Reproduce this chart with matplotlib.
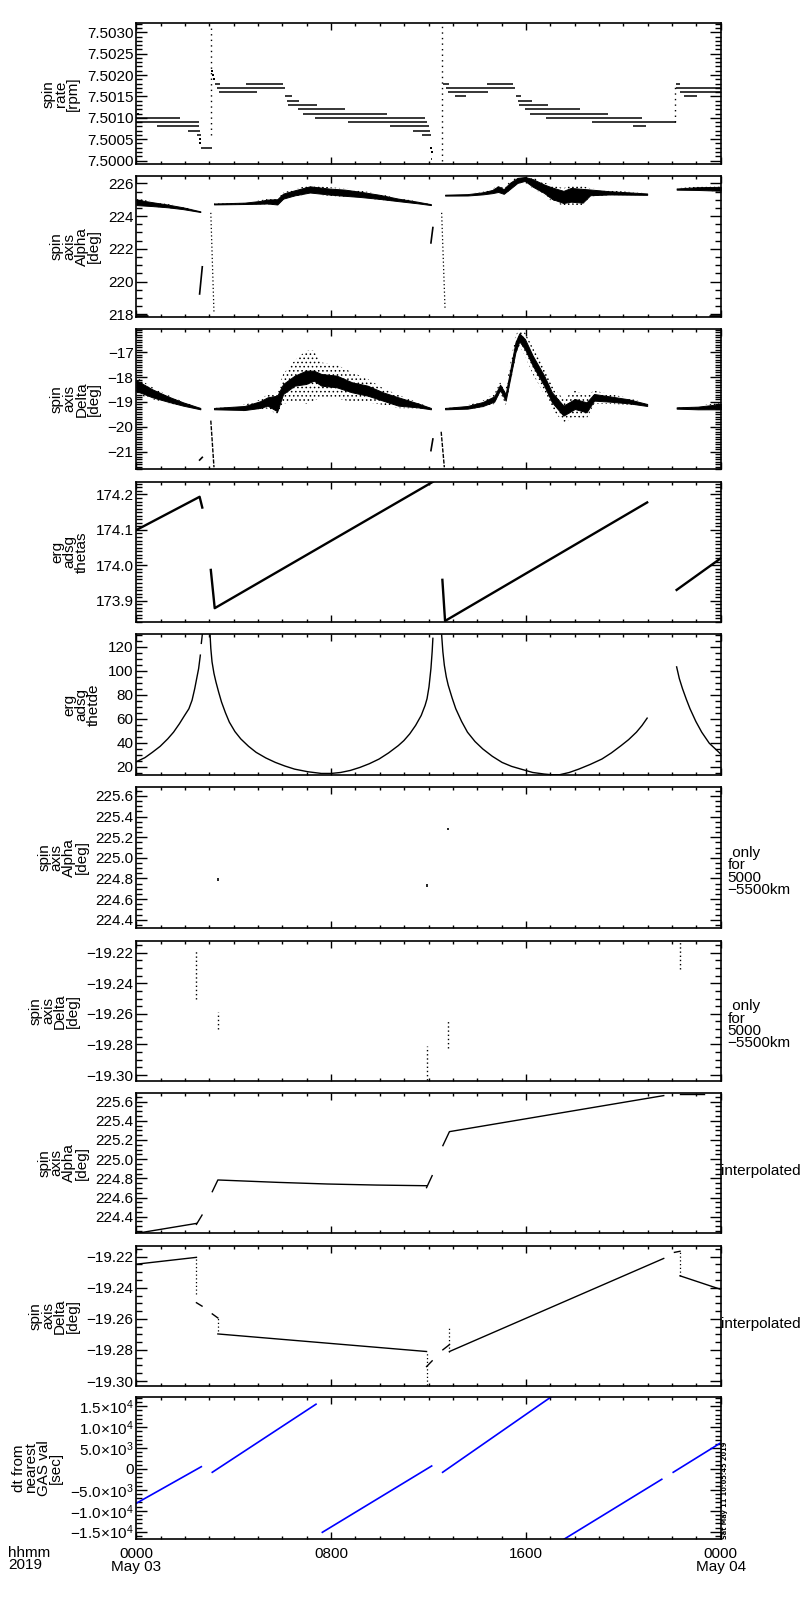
import numpy as np
import matplotlib
matplotlib.use('Agg')
import matplotlib.pyplot as plt
from matplotlib.ticker import MultipleLocator, FuncFormatter, FixedLocator, FixedFormatter

plt.rcParams['font.family'] = ['Liberation Sans', 'DejaVu Sans']
plt.rcParams['mathtext.fontset'] = 'custom'
plt.rcParams['mathtext.rm'] = 'Liberation Sans'
plt.rcParams['mathtext.it'] = 'Liberation Sans:italic'
plt.rcParams['hatch.linewidth'] = 0.6

# ---------------- data (time in hours of 2019-05-03) ----------------
# panel 1: spin rate [rpm], quantised levels
rate_level = [7.5010, 7.5009, 7.5008, 7.5007, 7.5006, 7.5003,
              7.5018, 7.5017, 7.5016, 7.5018, 7.5015, 7.5014, 7.5013, 7.5012,
              7.5011, 7.5010, 7.5009, 7.5008, 7.5007, 7.5006, 7.50003,
              7.5018, 7.5017, 7.5016, 7.5015, 7.5018, 7.5015, 7.5014, 7.5013,
              7.5012, 7.5011, 7.5010, 7.5009, 7.5008,
              7.5018, 7.5017, 7.5016, 7.5015]
rate_start = [0.0, 0.0, 0.84, 2.14, 2.48, 2.66,
              3.23, 3.30, 3.41, 4.50, 6.11, 6.18, 6.24, 6.65,
              6.86, 7.34, 8.71, 10.42, 11.38, 11.72, 12.09,
              12.58, 12.72, 12.81, 13.09, 14.39, 15.59, 15.69, 15.73,
              15.96, 16.17, 16.83, 18.70, 20.41,
              22.16, 22.16, 22.33, 22.49]
rate_end = [1.79, 2.58, 2.58, 2.60, 2.66, 3.11,
            3.44, 6.11, 4.94, 6.01, 6.38, 6.68, 7.41, 8.57,
            10.30, 11.86, 11.93, 12.00, 12.06, 12.09, 12.16,
            12.84, 15.55, 14.46, 13.54, 15.46, 15.78, 16.24, 16.92,
            18.22, 19.39, 20.75, 22.16, 20.93,
            22.33, 24.0, 24.0, 23.01]
rate_spike_time = [3.05, 12.55, 22.14]
rate_spike_low = [7.5006, 7.5000, 7.5009]
rate_spike_high = [7.50315, 7.50315, 7.5018]
rate_dot_time = [3.12, 3.15, 3.18, 2.60, 2.63, 12.10, 12.13, 0.05]
rate_dot_value = [7.5021, 7.5020, 7.5019, 7.5005, 7.5004, 7.5003, 7.5002, 7.5011]

# panel 2: spin axis Alpha [deg] (band envelopes)
alpha_a_time = [0, 0.66, 1.29, 1.92, 2.63]
alpha_a_upper = [225.08, 224.90, 224.74, 224.56, 224.30]
alpha_a_lower = [224.60, 224.56, 224.50, 224.40, 224.24]
alpha_c_time = [3.19, 4.45, 5.08, 5.39, 5.79, 6.03, 6.50, 7.13, 7.92, 8.55, 9.18, 9.97, 10.76, 11.55, 12.10]
alpha_c_upper = [224.78, 224.84, 224.96, 225.06, 225.10, 225.44, 225.64, 225.90, 225.76, 225.70, 225.56, 225.36, 225.10, 224.90, 224.74]
alpha_c_lower = [224.70, 224.72, 224.72, 224.72, 224.64, 225.00, 225.20, 225.36, 225.24, 225.16, 225.10, 225.00, 224.88, 224.76, 224.66]
alpha_e_time = [12.68, 13.60, 14.23, 14.62, 14.86, 15.09, 15.33, 15.65, 15.96, 16.28, 16.75, 17.07, 17.54, 17.85, 18.33, 18.64, 19.43, 20.22, 20.98]
alpha_e_upper = [225.32, 225.36, 225.48, 225.64, 225.90, 225.70, 226.10, 226.40, 226.44, 226.36, 226.04, 225.90, 225.70, 225.90, 225.84, 225.70, 225.56, 225.48, 225.40]
alpha_e_lower = [225.24, 225.24, 225.30, 225.36, 225.40, 225.30, 225.56, 225.96, 226.10, 225.70, 225.30, 224.90, 224.64, 224.70, 224.64, 225.20, 225.28, 225.28, 225.28]
alpha_f_time = [22.19, 23.06, 24.0]
alpha_f_upper = [225.70, 225.80, 225.84]
alpha_f_lower = [225.60, 225.56, 225.50]
alpha_stub_t0 = [2.60, 12.10]
alpha_stub_v0 = [219.24, 222.36]
alpha_stub_t1 = [2.71, 12.18]
alpha_stub_v1 = [220.90, 223.30]
alpha_spike_t0 = [3.06, 12.54]
alpha_spike_v0 = [224.2, 224.2]
alpha_spike_t1 = [3.19, 12.68]
alpha_spike_v1 = [218.1, 218.3]
alpha_edge_t0 = [0.0, 23.5]
alpha_edge_t1 = [0.5, 24.0]
alpha_edge_v = [217.9, 217.9]

# panel 3: spin axis Delta [deg] (centre, dense core half-width, scatter half-width)
delta_a_time = [0, 0.66, 1.29, 1.92, 2.63]
delta_a_center = [-18.342, -18.651, -18.879, -19.081, -19.268]
delta_a_core = [0.215, 0.161, 0.107, 0.067, 0.027]
delta_a_outer = [0.336, 0.242, 0.161, 0.094, 0.027]
delta_c_time = [3.19, 4.45, 5.08, 5.39, 5.79, 6.03, 6.50, 6.97, 7.29, 7.60, 8.23, 8.86, 9.50, 10.13, 10.76, 11.55, 12.10]
delta_c_center = [-19.268, -19.242, -19.107, -18.980, -19.060, -18.477, -18.141, -18.007, -17.940, -18.107, -18.174, -18.409, -18.544, -18.779, -18.980, -19.134, -19.268]
delta_c_core = [0.027, 0.081, 0.134, 0.168, 0.315, 0.201, 0.201, 0.268, 0.201, 0.235, 0.235, 0.201, 0.201, 0.168, 0.168, 0.081, 0.027]
delta_c_outer = [0.027, 0.134, 0.201, 0.282, 0.443, 0.604, 0.805, 1.074, 1.007, 0.698, 0.671, 0.604, 0.470, 0.336, 0.268, 0.121, 0.027]
delta_e_time = [12.68, 13.60, 14.23, 14.70, 14.94, 15.17, 15.33, 15.57, 15.73, 15.96, 16.28, 16.75, 17.07, 17.54, 18.01, 18.49, 18.80, 19.43, 20.22, 20.98]
delta_e_center = [-19.268, -19.215, -19.081, -18.879, -18.409, -18.812, -18.007, -16.799, -16.396, -16.664, -17.336, -18.141, -18.812, -19.349, -19.081, -19.215, -18.812, -18.879, -18.973, -19.121]
delta_e_core = [0.027, 0.054, 0.081, 0.107, 0.107, 0.134, 0.161, 0.201, 0.161, 0.201, 0.201, 0.201, 0.201, 0.201, 0.201, 0.201, 0.134, 0.107, 0.081, 0.040]
delta_e_outer = [0.027, 0.081, 0.134, 0.201, 0.201, 0.336, 0.403, 0.470, 0.336, 0.470, 0.537, 0.537, 0.470, 0.470, 0.537, 0.470, 0.268, 0.201, 0.134, 0.054]
delta_f_time = [22.19, 23.06, 24.0]
delta_f_center = [-19.242, -19.242, -19.188]
delta_f_core = [0.027, 0.054, 0.107]
delta_f_outer = [0.027, 0.081, 0.161]
delta_stub_t0 = [2.60, 12.10]
delta_stub_v0 = [-21.34, -20.96]
delta_stub_t1 = [2.71, 12.18]
delta_stub_v1 = [-21.23, -20.49]
delta_spike_t0 = [3.06, 12.52]
delta_spike_v0 = [-19.75, -20.20]
delta_spike_t1 = [3.19, 12.65]
delta_spike_v1 = [-21.63, -21.63]

# panel 4: erg adsg thetas
thetas_a_time = [0.0, 2.60, 2.71]
thetas_a_value = [174.0995, 174.1934, 174.163]
thetas_b_time = [3.06, 3.22, 12.18]
thetas_b_value = [173.987, 173.879, 174.2357]
thetas_c_time = [12.57, 12.68, 20.98]
thetas_c_value = [173.959, 173.843, 174.1775]
thetas_d_time = [22.19, 24.0]
thetas_d_value = [173.9305, 174.0197]

# panel 5: erg adsg thetde
thetde_a_time = [0, 0.35, 0.66, 0.98, 1.29, 1.53, 1.77, 1.97, 2.16, 2.29, 2.40, 2.48, 2.56, 2.63]
thetde_a_value = [24.2, 27.5, 32.0, 37.0, 43.2, 48.8, 55.8, 62.3, 68.3, 75.4, 85.1, 93.5, 101.8, 113.0]
thetde_a2_time = [2.67, 2.71]
thetde_a2_value = [122.8, 130.0]
thetde_b_time = [3.03, 3.06, 3.11, 3.19, 3.27, 3.38, 3.50, 3.66, 3.82, 4.05, 4.29, 4.61, 4.92, 5.32,
                 5.71, 6.10, 6.50, 7.05, 7.60, 8.00, 8.39, 8.79, 9.18, 9.57, 9.97, 10.36, 10.76,
                 10.99, 11.23, 11.47, 11.70, 11.86, 11.94, 12.02, 12.10, 12.15, 12.18]
thetde_b_value = [129.8, 118.6, 107.4, 97.7, 90.7, 82.3, 73.9, 65.0, 57.2, 49.3, 43.2, 37.0, 32.0, 27.3,
                  23.6, 20.6, 18.0, 15.8, 14.4, 14.4, 15.2, 16.9, 19.4, 22.5, 26.4, 31.5, 37.6,
                  41.8, 47.4, 54.4, 62.7, 71.1, 76.7, 86.5, 101.8, 115.8, 127.0]
thetde_c_time = [12.54, 12.59, 12.65, 12.73, 12.81, 12.97, 13.12, 13.36, 13.60, 13.91, 14.23, 14.62,
                 15.02, 15.41, 15.80, 16.28, 16.75, 17.07, 17.38, 17.78, 18.17, 18.64, 19.12, 19.51,
                 19.91, 20.22, 20.54, 20.77, 20.98]
thetde_c_value = [129.8, 115.8, 104.6, 94.9, 87.9, 77.3, 68.3, 57.7, 48.8, 41.0, 34.8, 28.7,
                  23.6, 20.3, 18.0, 15.2, 13.9, 13.3, 13.3, 15.2, 18.0, 21.9, 26.4, 31.5,
                  37.6, 42.6, 48.8, 54.4, 60.5]
thetde_d_time = [22.19, 22.30, 22.43, 22.59, 22.74, 22.98, 23.22, 23.53, 24.0]
thetde_d_value = [103.2, 93.5, 85.1, 76.1, 68.3, 57.7, 48.8, 39.6, 30.6]

# panel 6: Alpha only for 5000-5500 km
alpha_sel_time = [3.35, 11.94, 12.82]
alpha_sel_low = [224.78, 224.72, 225.27]
alpha_sel_high = [224.80, 224.745, 225.29]

# panel 7: Delta only for 5000-5500 km
delta_sel_time = [2.47, 3.35, 11.94, 12.82, 22.33]
delta_sel_low = [-19.250, -19.270, -19.303, -19.2825, -19.231]
delta_sel_high = [-19.219, -19.259, -19.281, -19.265, -19.213]

# panel 8: Alpha interpolated
alpha_int_segments = [
    ([0.0, 2.47], [224.226, 224.330]),
    ([2.47, 2.70], [224.320, 224.417]),
    ([3.12, 3.35, 5.81, 7.84, 9.86, 11.92], [224.661, 224.783, 224.758, 224.741, 224.730, 224.723]),
    ([11.92, 12.15], [224.703, 224.828]),
    ([12.59, 12.86, 21.66], [225.141, 225.287, 225.663]),
    ([22.33, 23.33], [225.680, 225.680]),
]

# panel 9: Delta interpolated
delta_int_segments = [
    ([0.0, 2.47], [-19.2248, -19.2204]),
    ([2.47, 2.70], [-19.2496, -19.2518]),
    ([3.12, 3.35], [-19.2568, -19.2594]),
    ([3.35, 11.92], [-19.2697, -19.2810]),
    ([11.92, 12.15], [-19.2907, -19.2870]),
    ([12.59, 12.86], [-19.2799, -19.2766]),
    ([12.86, 21.66], [-19.2810, -19.2211]),
    ([22.10, 22.33], [-19.2172, -19.2165]),
    ([22.33, 24.0], [-19.2323, -19.2410]),
]
delta_int_jump_time = [2.47, 3.35, 11.92, 12.86, 22.33]
delta_int_jump_low = [-19.2442, -19.2680, -19.3026, -19.2810, -19.2323]
delta_int_jump_high = [-19.2204, -19.2594, -19.2810, -19.2648, -19.2165]

# panel 10: dt from nearest GAS val [sec]
dt_start_time = [0.0, 3.12, 7.64, 12.58, 17.58, 22.05]
dt_start_value = [-8206, -790, -15150, -790, -16750, -790]
dt_end_time = [2.67, 7.38, 12.13, 17.03, 21.58, 23.97]
dt_end_value = [550, 15500, 720, 17225, -2464, 6150]

# axis texts
ylabels = ["spin\nrate\n[rpm]", "spin\naxis\nAlpha\n[deg]", "spin\naxis\nDelta\n[deg]",
           "erg\nadsg\nthetas", "erg\nadsg\nthetde", "spin\naxis\nAlpha\n[deg]",
           "spin\naxis\nDelta\n[deg]", "spin\naxis\nAlpha\n[deg]", "spin\naxis\nDelta\n[deg]",
           "dt from\nnearest\nGAS val\n[sec]"]
xtick_hours = [0, 8, 16, 24]
xtick_labels = ["0000\nMay 03", "0800", "1600", "0000\nMay 04"]
dt_ticks = [-15000, -10000, -5000, 0, 5000, 10000, 15000]
dt_tick_labels = [r'$-1.5{\times}10^{4}$', r'$-1.0{\times}10^{4}$', r'$-5.0{\times}10^{3}$', '0',
                  r'$5.0{\times}10^{3}$', r'$1.0{\times}10^{4}$', r'$1.5{\times}10^{4}$']

# ---------------- figure ----------------
FS = 11
W, H = 800, 1600
fig = plt.figure(figsize=(8, 16), dpi=100)
left_px, right_px = 136.3, 720.7
tops = [23.3, 176.0, 329.0, 481.7, 634.0, 787.0, 941.0, 1093.0, 1246.0, 1397.0]
bots = [164.0, 316.7, 469.0, 622.0, 775.0, 928.0, 1080.7, 1233.0, 1385.7, 1539.0]
axes = []
for t, b in zip(tops, bots):
    axes.append(fig.add_axes([left_px / W, 1 - b / H, (right_px - left_px) / W, (b - t) / H]))


def fmt(pattern):
    return FuncFormatter(lambda v, p: (pattern % v).replace('-', '\u2212'))


def style(ax, ylim, major, minor, formatter):
    ax.set_xlim(0, 24)
    ax.set_ylim(*ylim)
    ax.xaxis.set_major_locator(FixedLocator(xtick_hours))
    ax.xaxis.set_minor_locator(MultipleLocator(1))
    ax.yaxis.set_major_locator(MultipleLocator(major))
    ax.yaxis.set_minor_locator(MultipleLocator(minor))
    if formatter is not None:
        ax.yaxis.set_major_formatter(formatter)
    ax.tick_params(which='both', direction='in', top=True, right=True, width=1.0,
                   labelsize=FS, colors='black')
    ax.tick_params(axis='y', which='major', length=8, pad=2)
    ax.tick_params(axis='y', which='minor', length=4.5)
    ax.tick_params(axis='x', which='major', length=5, pad=6)
    ax.tick_params(axis='x', which='minor', length=2.5)
    ax.tick_params(axis='x', labelbottom=False)
    for s in ax.spines.values():
        s.set_linewidth(1.2)


def band(ax, t, center, hw, hatch=False):
    c = np.asarray(center)
    w = np.asarray(hw)
    if hatch:
        ax.fill_between(t, c - w, c + w, facecolor='none', edgecolor='black',
                        hatch='....', linewidth=0)
    else:
        ax.fill_between(t, c - w, c + w, facecolor='black', edgecolor='black', linewidth=0.7)


# panel 1
ax = axes[0]
ax.hlines(rate_level, rate_start, rate_end, color='black', lw=1.1)
ax.vlines(rate_spike_time, rate_spike_low, rate_spike_high, color='black', lw=1.0, linestyles=(0, (1, 3)))
ax.scatter(rate_dot_time, rate_dot_value, s=2, marker='s', color='black', linewidths=0)
style(ax, (7.49992, 7.50321), 0.0005, 0.0001, fmt('%.4f'))

# panel 2: full scatter envelope dotted, dense middle solid
ax = axes[1]
for t, lo, hi in [(alpha_a_time, alpha_a_lower, alpha_a_upper),
                  (alpha_c_time, alpha_c_lower, alpha_c_upper),
                  (alpha_e_time, alpha_e_lower, alpha_e_upper),
                  (alpha_f_time, alpha_f_lower, alpha_f_upper)]:
    lo = np.asarray(lo)
    hi = np.asarray(hi)
    mid = (lo + hi) / 2
    half = (hi - lo) / 2
    band(ax, t, mid, half, hatch=True)
    band(ax, t, mid, half * 0.7)
for t0, v0, t1, v1 in zip(alpha_stub_t0, alpha_stub_v0, alpha_stub_t1, alpha_stub_v1):
    ax.plot([t0, t1], [v0, v1], color='black', lw=1.2)
for t0, v0, t1, v1 in zip(alpha_spike_t0, alpha_spike_v0, alpha_spike_t1, alpha_spike_v1):
    ax.plot([t0, t1], [v0, v1], color='black', lw=0.9, ls=(0, (1, 2)))
ax.hlines(alpha_edge_v, alpha_edge_t0, alpha_edge_t1, color='black', lw=2)
style(ax, (217.85, 226.45), 2, 0.5, fmt('%d'))

# panel 3
ax = axes[2]
for t, c, core, outer in [(delta_a_time, delta_a_center, delta_a_core, delta_a_outer),
                          (delta_c_time, delta_c_center, delta_c_core, delta_c_outer),
                          (delta_e_time, delta_e_center, delta_e_core, delta_e_outer),
                          (delta_f_time, delta_f_center, delta_f_core, delta_f_outer)]:
    band(ax, t, c, outer, hatch=True)
    band(ax, t, c, core)
for t0, v0, t1, v1 in zip(delta_stub_t0, delta_stub_v0, delta_stub_t1, delta_stub_v1):
    ax.plot([t0, t1], [v0, v1], color='black', lw=1.2)
for t0, v0, t1, v1 in zip(delta_spike_t0, delta_spike_v0, delta_spike_t1, delta_spike_v1):
    ax.plot([t0, t1], [v0, v1], color='black', lw=1.0, ls=(0, (3, 1)))
style(ax, (-21.70, -16.06), 1, 0.1, fmt('%d'))

# panel 4
ax = axes[3]
for t, v in [(thetas_a_time, thetas_a_value), (thetas_b_time, thetas_b_value),
             (thetas_c_time, thetas_c_value), (thetas_d_time, thetas_d_value)]:
    ax.plot(t, v, color='black', lw=1.7)
style(ax, (173.84, 174.236), 0.1, 0.01, fmt('%.1f'))

# panel 5
ax = axes[4]
for t, v in [(thetde_a_time, thetde_a_value), (thetde_a2_time, thetde_a2_value),
             (thetde_b_time, thetde_b_value), (thetde_c_time, thetde_c_value),
             (thetde_d_time, thetde_d_value)]:
    ax.plot(t, v, color='black', lw=1.0)
style(ax, (13.1, 130.6), 20, 5, fmt('%d'))

# panel 6
ax = axes[5]
ax.vlines(alpha_sel_time, alpha_sel_low, alpha_sel_high, color='black', lw=1.2)
style(ax, (224.32, 225.687), 0.2, 0.05, fmt('%.1f'))

# panel 7
ax = axes[6]
ax.vlines(delta_sel_time, delta_sel_low, delta_sel_high, color='black', lw=1.0, linestyles=(0, (1, 2)))
style(ax, (-19.3037, -19.2124), 0.02, 0.005, fmt('%.2f'))

# panel 8
ax = axes[7]
for t, v in alpha_int_segments:
    ax.plot(t, v, color='black', lw=1.0)
style(ax, (224.23, 225.69), 0.2, 0.05, fmt('%.1f'))

# panel 9
ax = axes[8]
for t, v in delta_int_segments:
    ax.plot(t, v, color='black', lw=1.0)
ax.vlines(delta_int_jump_time, delta_int_jump_low, delta_int_jump_high, color='black', lw=0.9,
          linestyles=(0, (1, 2)))
style(ax, (-19.303, -19.2131), 0.02, 0.005, fmt('%.2f'))

# panel 10
ax = axes[9]
for t0, v0, t1, v1 in zip(dt_start_time, dt_start_value, dt_end_time, dt_end_value):
    ax.plot([t0, t1], [v0, v1], color='#0000ff', lw=1.2)
style(ax, (-16750, 17225), 5000, 1000, None)
ax.yaxis.set_major_locator(FixedLocator(dt_ticks))
ax.yaxis.set_major_formatter(FixedFormatter(dt_tick_labels))
ax.tick_params(axis='x', labelbottom=True)
ax.set_xticks(xtick_hours)
ax.set_xticklabels(xtick_labels)
for lab in ax.get_xticklabels():
    lab.set_linespacing(0.85)

for ax, lab in zip(axes, ylabels):
    ax.set_ylabel(lab, fontsize=FS, linespacing=0.85, labelpad=5)

# right-hand annotations
for i in (5, 6):
    axes[i].text(1.012, 0.40, " only\nfor\n5000\n\u22125500km", transform=axes[i].transAxes,
                 ha='left', va='center', fontsize=FS, linespacing=0.85, multialignment='left')
for i in (7, 8):
    axes[i].text(1.0, 0.44, "interpolated", transform=axes[i].transAxes,
                 ha='left', va='center', fontsize=FS)

fig.text(8 / W, 1 - 1546 / H, "hhmm\n2019", ha='left', va='top', fontsize=FS, linespacing=0.85)
fig.text(725 / W, 1 - 1539 / H, "Sat May 11 10:05:45 2019", rotation=90, ha='center', va='bottom',
         fontsize=4.8, fontweight='bold', family=['DejaVu Sans'])

fig.savefig('out.png', dpi=100, facecolor='white')
